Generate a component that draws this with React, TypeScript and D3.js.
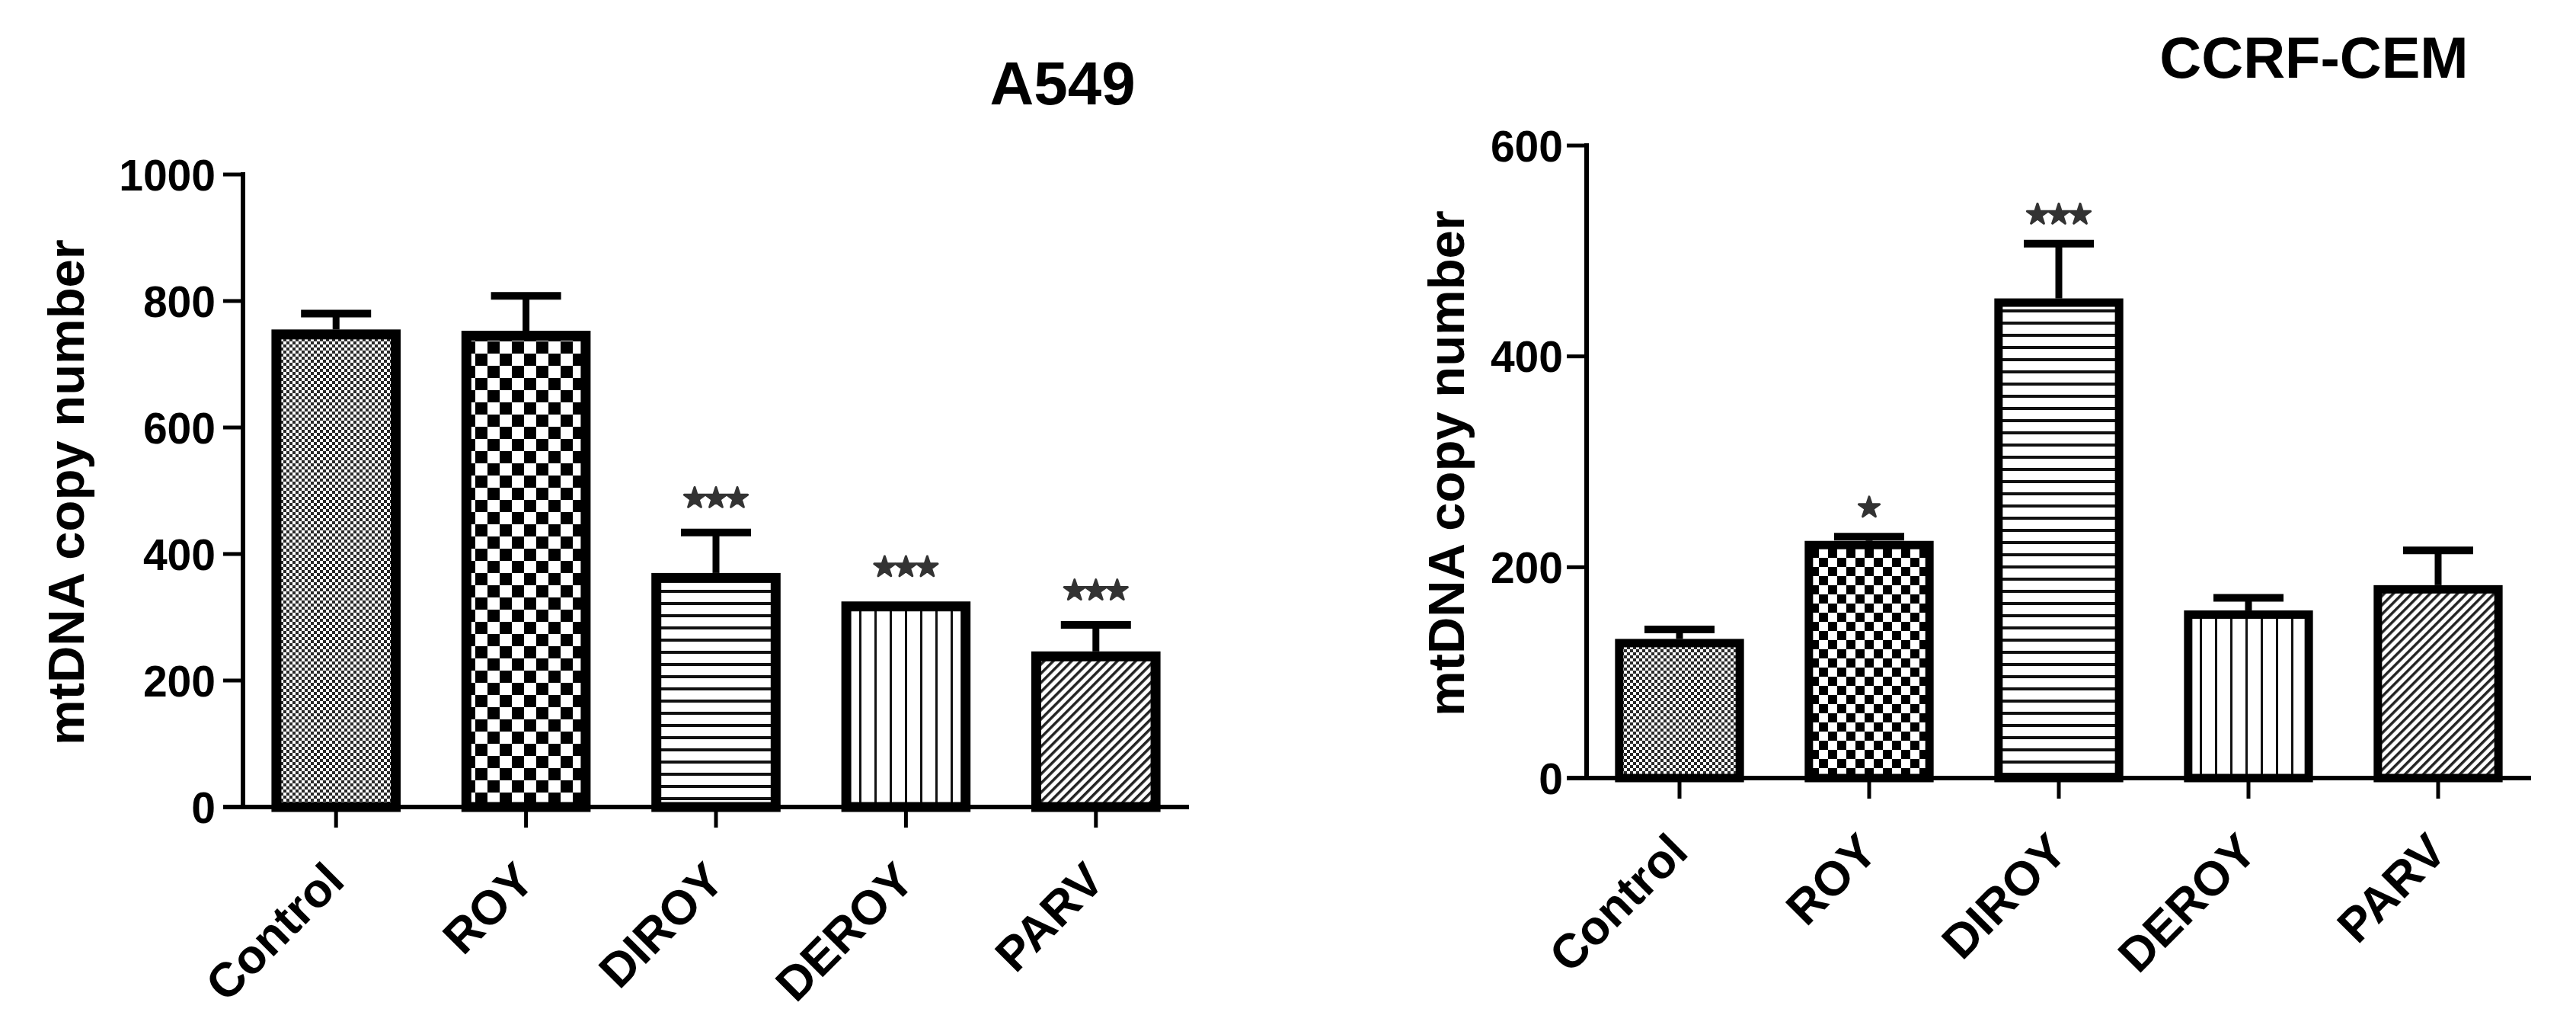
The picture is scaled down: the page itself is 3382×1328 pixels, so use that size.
import React, { useEffect } from 'react';
import * as d3 from 'd3';

// ---------- data ----------
const categories = ['Control', 'ROY', 'DIROY', 'DEROY', 'PARV'];

const a549Title = 'A549';
const a549Means = [755, 753, 370, 325, 246];
const a549Errors = [25, 55, 64, 0, 42];
const a549Stars = ['', '', '***', '***', '***'];
const a549Ticks = [0, 200, 400, 600, 800, 1000];

const cemTitle = 'CCRF-CEM';
const cemMeans = [132, 225, 455, 159, 183];
const cemErrors = [9, 4, 52, 12, 33];
const cemStars = ['', '*', '***', '', ''];
const cemTicks = [0, 200, 400, 600];

const yLabel = 'mtDNA copy number';
const patternIds = ['ctrl', 'roy', 'diroy', 'deroy', 'parv'];

const FONT = '"Liberation Sans", Arial, Helvetica, sans-serif';

type PanelCfg = {
  id: string;
  title: string;
  means: number[];
  errors: number[];
  stars: string[];
  ticks: number[];
  axisX: number;
  xEnd: number;
  yBottom: number;
  yTop: number;
  tickLabelX: number;
  yLabelX: number;
  titleX: number;
  titleY: number;
  titleSize: number;
  border: number;
  royCell: number;
  starGap: number;
};

function Patterns({ id, royCell }: { id: string; royCell: number }) {
  const c = royCell;
  return (
    <>
      <pattern id={`${id}-ctrl`} patternUnits="userSpaceOnUse" width={8} height={8}>
        <rect width={8} height={8} fill="#fff" />
        <rect x={0} y={0} width={4} height={4} fill="#2a2a2a" />
        <rect x={4} y={4} width={4} height={4} fill="#2a2a2a" />
      </pattern>
      <pattern id={`${id}-roy`} patternUnits="userSpaceOnUse" width={2 * c} height={2 * c}>
        <rect width={2 * c} height={2 * c} fill="#fff" />
        <rect x={0} y={0} width={c} height={c} fill="#000" />
        <rect x={c} y={c} width={c} height={c} fill="#000" />
      </pattern>
      <pattern id={`${id}-diroy`} patternUnits="userSpaceOnUse" width={16} height={16}>
        <rect width={16} height={16} fill="#fff" />
        <rect x={0} y={6} width={16} height={4} fill="#111" />
      </pattern>
      <pattern id={`${id}-deroy`} patternUnits="userSpaceOnUse" width={20} height={20}>
        <rect width={20} height={20} fill="#fff" />
        <rect x={8} y={0} width={3} height={20} fill="#111" />
      </pattern>
      <pattern
        id={`${id}-parv`}
        patternUnits="userSpaceOnUse"
        width={8.5}
        height={8.5}
        patternTransform="rotate(45)"
      >
        <rect width={8.5} height={8.5} fill="#fff" />
        <rect x={0} y={0} width={3.5} height={8.5} fill="#222" />
      </pattern>
    </>
  );
}

function Panel({ cfg }: { cfg: PanelCfg }) {
  const y = d3
    .scaleLinear()
    .domain([0, d3.max(cfg.ticks) as number])
    .range([cfg.yBottom, cfg.yTop]);
  const x = d3
    .scaleBand<string>()
    .domain(categories)
    .range([cfg.axisX, cfg.xEnd])
    .paddingInner(0.32)
    .paddingOuter(0.15);
  const bw = x.bandwidth();
  const b = cfg.border;
  const tickLen = 26;
  const starPath = d3.symbol().type(d3.symbolStar).size(230)() as string;

  return (
    <g>
      <defs>
        <Patterns id={cfg.id} royCell={cfg.royCell} />
      </defs>
      {/* title */}
      <text
        x={cfg.titleX}
        y={cfg.titleY}
        textAnchor="middle"
        fontFamily={FONT}
        fontWeight="bold"
        fontSize={cfg.titleSize}
        fill="#000"
      >
        {cfg.title}
      </text>
      {/* y label */}
      <text
        transform={`translate(${cfg.yLabelX},${(cfg.yBottom + cfg.yTop) / 2 + 2}) rotate(-90)`}
        textAnchor="middle"
        fontFamily={FONT}
        fontWeight="bold"
        fontSize={67}
        fill="#000"
      >
        {yLabel}
      </text>
      {/* bars */}
      {categories.map((cat, i) => {
        const x0 = x(cat) as number;
        const top = y(cfg.means[i]);
        return (
          <rect
            key={cat}
            x={x0 + b / 2}
            y={top + b / 2}
            width={bw - b}
            height={cfg.yBottom - top - b / 2}
            fill={`url(#${cfg.id}-${patternIds[i]})`}
            stroke="#000"
            strokeWidth={b}
          />
        );
      })}
      {/* error bars */}
      {categories.map((cat, i) => {
        if (!cfg.errors[i]) return null;
        const cx = (x(cat) as number) + bw / 2;
        const top = y(cfg.means[i]);
        const et = y(cfg.means[i] + cfg.errors[i]);
        return (
          <g key={cat}>
            <line x1={cx} x2={cx} y1={top} y2={et} stroke="#000" strokeWidth={9} />
            <line x1={cx - 46} x2={cx + 46} y1={et} y2={et} stroke="#000" strokeWidth={10} />
          </g>
        );
      })}
      {/* significance stars */}
      {categories.map((cat, i) => {
        const n = cfg.stars[i].length;
        if (!n) return null;
        const cx = (x(cat) as number) + bw / 2;
        const et = y(cfg.means[i] + cfg.errors[i]);
        const sy = et - cfg.starGap;
        return (
          <g key={cat}>
            {d3.range(n).map((k) => (
              <path
                key={k}
                d={starPath}
                transform={`translate(${cx + (k - (n - 1) / 2) * 28},${sy})`}
                fill="#333"
                stroke="#333"
                strokeWidth={3}
                strokeLinejoin="round"
              />
            ))}
          </g>
        );
      })}
      {/* y axis */}
      <line x1={cfg.axisX} x2={cfg.axisX} y1={cfg.yTop - 3} y2={cfg.yBottom + 3} stroke="#000" strokeWidth={6} />
      {cfg.ticks.map((t) => (
        <g key={t}>
          <line
            x1={cfg.axisX - tickLen}
            x2={cfg.axisX}
            y1={y(t)}
            y2={y(t)}
            stroke="#000"
            strokeWidth={5}
          />
          <text
            x={cfg.tickLabelX}
            y={y(t)}
            dy="0.36em"
            textAnchor="end"
            fontFamily={FONT}
            fontWeight="bold"
            fontSize={57}
            fill="#000"
          >
            {t}
          </text>
        </g>
      ))}
      {/* x axis */}
      <line
        x1={cfg.axisX - tickLen}
        x2={cfg.xEnd}
        y1={cfg.yBottom}
        y2={cfg.yBottom}
        stroke="#000"
        strokeWidth={6}
      />
      {categories.map((cat) => {
        const cx = (x(cat) as number) + bw / 2;
        return (
          <g key={cat}>
            <line x1={cx} x2={cx} y1={cfg.yBottom} y2={cfg.yBottom + 27} stroke="#000" strokeWidth={5} />
            <text
              transform={`translate(${cx + 14},${cfg.yBottom + 100}) rotate(-45)`}
              textAnchor="end"
              fontFamily={FONT}
              fontWeight="bold"
              fontSize={63}
              fill="#000"
            >
              {cat}
            </text>
          </g>
        );
      })}
    </g>
  );
}

const leftCfg: PanelCfg = {
  id: 'a549',
  title: a549Title,
  means: a549Means,
  errors: a549Errors,
  stars: a549Stars,
  ticks: a549Ticks,
  axisX: 319,
  xEnd: 1561,
  yBottom: 1059,
  yTop: 229,
  tickLabelX: 283,
  yLabelX: 110,
  titleX: 1395,
  titleY: 137,
  titleSize: 80,
  border: 13,
  royCell: 16,
  starGap: 45,
};

const rightCfg: PanelCfg = {
  id: 'cem',
  title: cemTitle,
  means: cemMeans,
  errors: cemErrors,
  stars: cemStars,
  ticks: cemTicks,
  axisX: 2083,
  xEnd: 3323,
  yBottom: 1021,
  yTop: 191,
  tickLabelX: 2052,
  yLabelX: 1922,
  titleX: 3038,
  titleY: 102,
  titleSize: 76,
  border: 11,
  royCell: 12,
  starGap: 38,
};

export default function App() {
  useEffect(() => {
    document.body.style.margin = '0';
  }, []);
  return (
    <svg
      width={3382}
      height={1328}
      viewBox="0 0 3382 1328"
      style={{ position: 'absolute', left: 0, top: 0, background: '#fff', display: 'block' }}
    >
      <rect width={3382} height={1328} fill="#fff" />
      <Panel cfg={leftCfg} />
      <Panel cfg={rightCfg} />
    </svg>
  );
}
